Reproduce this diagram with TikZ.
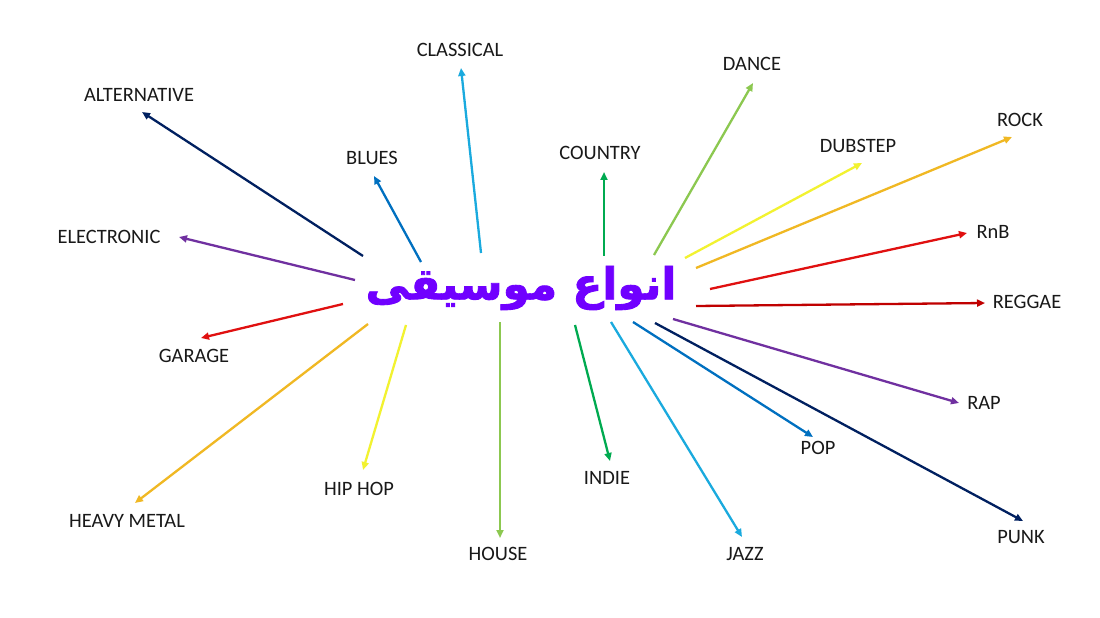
\documentclass[tikz,border=0pt]{standalone}
\usepackage{fontspec}
\setmainfont{Carlito}
\newfontfamily\farsifont[Script=Arabic,BoldFeatures={FakeBold=2}]{DejaVu Sans}
\TeXXeTstate=1
\usetikzlibrary{arrows.meta}

\definecolor{navy}{HTML}{002060}
\definecolor{midblue}{HTML}{0070C0}
\definecolor{skyblue}{HTML}{1AAADE}
\definecolor{violet}{HTML}{7030A0}
\definecolor{brightred}{HTML}{E01010}
\definecolor{darkred}{HTML}{C00000}
\definecolor{gold}{HTML}{F0B823}
\definecolor{lemon}{HTML}{F2F230}
\definecolor{lightgreen}{HTML}{8CC850}
\definecolor{green}{HTML}{00AA50}
\definecolor{titlecol}{HTML}{7000FF}

\tikzset{
  genre/.style={font=\fontsize{20.5}{23}\selectfont, inner sep=0pt, text=black!90},
  link/.style={line width=2.3bp, -{Triangle[length=8bp,width=7bp]}}
}

\begin{document}
\begin{tikzpicture}[x=1bp,y=-1bp]
    \useasboundingbox[fill=white] (0,0) rectangle (1100,618);

    % centre
    \node(title) at (521,288) [inner sep=0pt,text=titlecol,
      font=\fontsize{44}{50}\selectfont] {\farsifont\bfseries\beginR انواع موسیقی\endR};

    % labels
    \node(alternative) at (139,95) [genre] {ALTERNATIVE};
    \node(classical) at (460,50) [genre] {CLASSICAL};
    \node(blues) at (372,158) [genre] {BLUES};
    \node(electronic) at (109,237) [genre] {ELECTRONIC};
    \node(garage) at (194,356) [genre] {GARAGE};
    \node(heavymetal) at (127,521) [genre] {HEAVY METAL};
    \node(hiphop) at (359,489) [genre] {HIP HOP};
    \node(house) at (498,554) [genre] {HOUSE};
    \node(indie) at (607,478) [genre] {INDIE};
    \node(jazz) at (745,554) [genre] {JAZZ};
    \node(pop) at (818,448) [genre] {POP};
    \node(punk) at (1021,537) [genre] {PUNK};
    \node(rap) at (984,403) [genre] {RAP};
    \node(reggae) at (1027,302) [genre] {REGGAE};
    \node(rnb) at (993,232) [genre] {RnB};
    \node(rock) at (1020,120) [genre] {ROCK};
    \node(dubstep) at (858,146) [genre] {DUBSTEP};
    \node(dance) at (752,64) [genre] {DANCE};
    \node(country) at (600,153) [genre] {COUNTRY};

    % arrow ends
    \coordinate(alts) at (363,256);   \coordinate(alte) at (142,112);
    \coordinate(clas) at (481,253);   \coordinate(clae) at (461,68);
    \coordinate(blus) at (421,262);   \coordinate(blue) at (374,176);
    \coordinate(eles) at (355,280);   \coordinate(elee) at (179,237);
    \coordinate(gars) at (343,304);   \coordinate(gare) at (201,338);
    \coordinate(heas) at (368,324);   \coordinate(heae) at (135,503);
    \coordinate(hips) at (406,325);   \coordinate(hipe) at (363,470);
    \coordinate(hous) at (500,322);   \coordinate(houe) at (500,538);
    \coordinate(inds) at (575,325);   \coordinate(inde) at (610,461);
    \coordinate(jazs) at (611,322);   \coordinate(jaze) at (742,537);
    \coordinate(pops) at (633,322);   \coordinate(pope) at (813,437);
    \coordinate(puns) at (655,323);   \coordinate(pune) at (1023,521);
    \coordinate(raps) at (673,319);   \coordinate(rape) at (959,403);
    \coordinate(regs) at (696,306);   \coordinate(rege) at (985,303);
    \coordinate(rnbs) at (710,289);   \coordinate(rnbe) at (967,233);
    \coordinate(rocs) at (696,268);   \coordinate(roce) at (1012,137);
    \coordinate(dubs) at (685,258);   \coordinate(dube) at (862,163);
    \coordinate(dans) at (654,255);   \coordinate(dane) at (753,83);
    \coordinate(cous) at (604,256);   \coordinate(coue) at (604,172);

    % arrows
    \draw[link,navy] (alts) -- (alte);
    \draw[link,skyblue] (clas) -- (clae);
    \draw[link,midblue] (blus) -- (blue);
    \draw[link,violet] (eles) -- (elee);
    \draw[link,brightred] (gars) -- (gare);
    \draw[link,gold] (heas) -- (heae);
    \draw[link,lemon] (hips) -- (hipe);
    \draw[link,lightgreen] (hous) -- (houe);
    \draw[link,green] (inds) -- (inde);
    \draw[link,skyblue] (jazs) -- (jaze);
    \draw[link,midblue] (pops) -- (pope);
    \draw[link,navy] (puns) -- (pune);
    \draw[link,violet] (raps) -- (rape);
    \draw[link,darkred] (regs) -- (rege);
    \draw[link,brightred] (rnbs) -- (rnbe);
    \draw[link,gold] (rocs) -- (roce);
    \draw[link,lemon] (dubs) -- (dube);
    \draw[link,lightgreen] (dans) -- (dane);
    \draw[link,green] (cous) -- (coue);
\end{tikzpicture}
\end{document}
